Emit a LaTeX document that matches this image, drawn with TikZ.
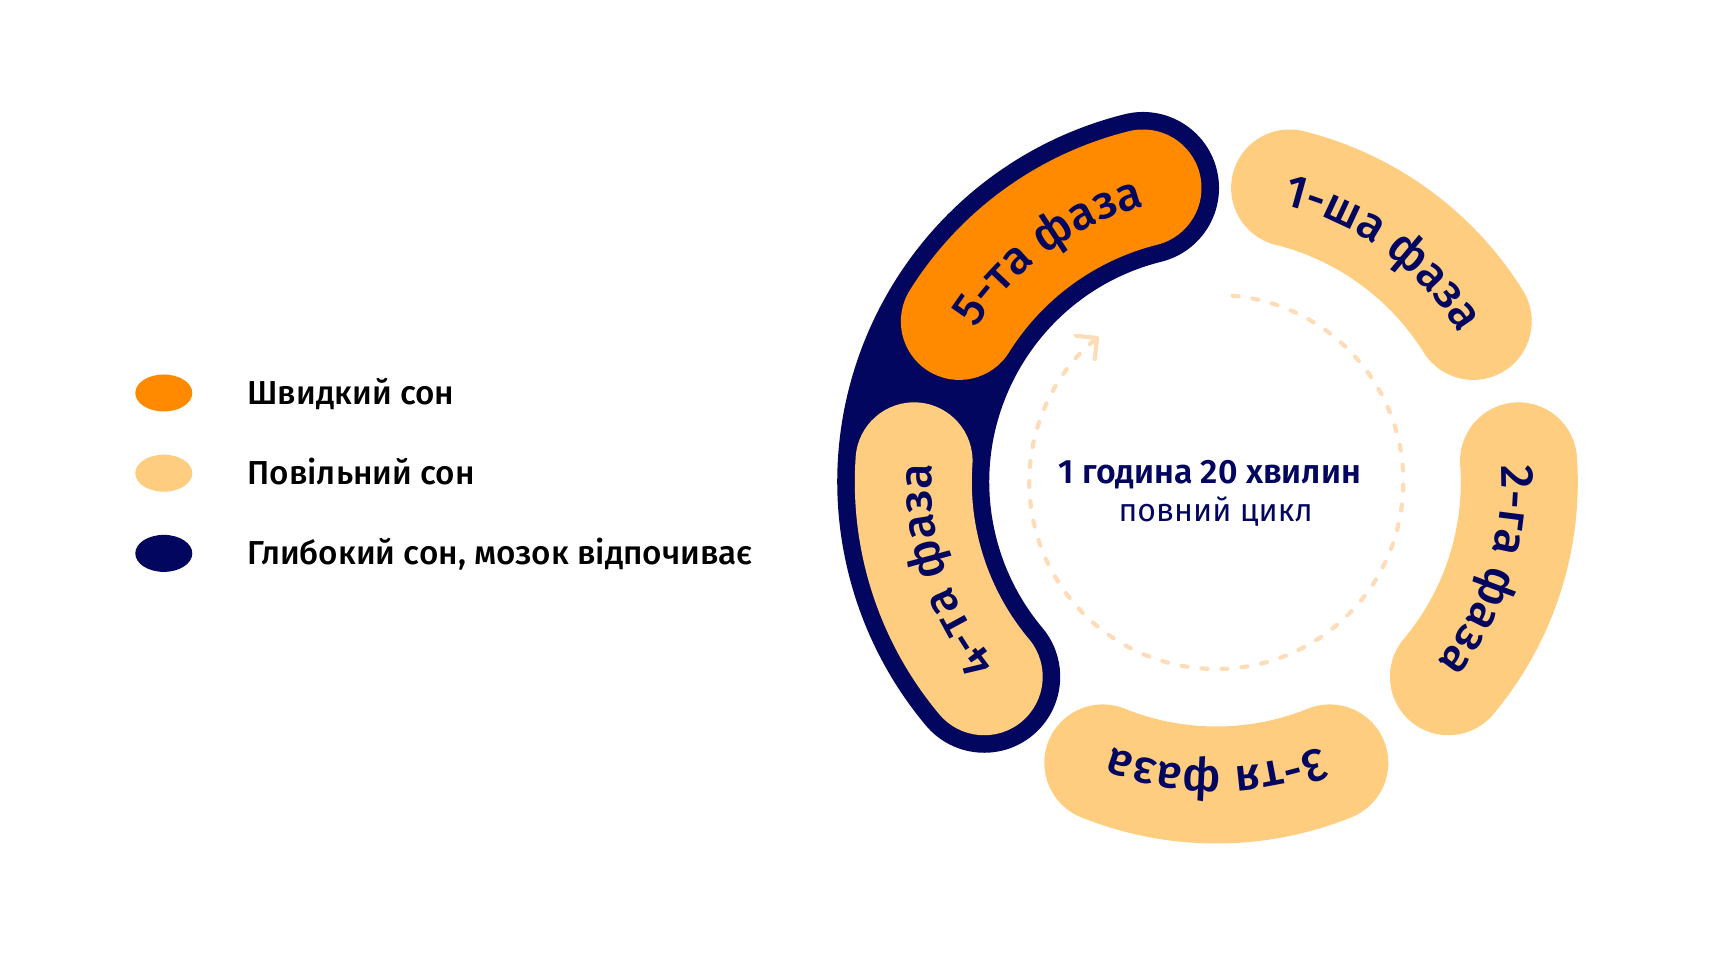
\documentclass[tikz,border=0pt]{standalone}
\usepackage{fontspec}
\setmainfont{Fira Sans}[UprightFont={* Medium}, BoldFont={* SemiBold}]
\newfontfamily\plainfont{Fira Sans}
\usetikzlibrary{arrows.meta,decorations.text,shapes.geometric}
\definecolor{navy}{HTML}{03065E}
\definecolor{peach}{HTML}{FFCD80}
\definecolor{orng}{HTML}{FF8A00}
\definecolor{dashpeach}{HTML}{FFDCB8}
\newcommand{\phasefont}{\fontsize{13.2}{15}\selectfont\color{navy}}
\tikzset{band/.style={line width=1.17cm, line cap=round},
  keydot/.style={ellipse, minimum width=0.57cm, minimum height=0.37cm, inner sep=0pt}}
\begin{document}
\begin{tikzpicture}
\useasboundingbox (0,0) rectangle (17.12,9.62);
\coordinate (O) at (12.163,4.80);
% deep sleep outline round phases 4 and 5
\draw[navy, line width=1.52cm, line cap=round] (O) ++(104:3.03) arc[start angle=104, end angle=220, radius=3.03];
\foreach \a/\col/\txt in {54/peach/1-ша фаза, -18/peach/2-га фаза, -90/peach/3-тя фаза, -162/peach/4-та фаза, 126/orng/5-та фаза}{
  \draw[\col, band] (O) ++(\a+22:3.03) arc[start angle=\a+22, end angle=\a-22, radius=3.03];
  \path[decorate, decoration={text along path, text align=center, text/.expanded={|\noexpand\phasefont|\txt}}]
    (O) ++(\a+22:2.85) arc[start angle=\a+22, end angle=\a-22, radius=2.85];
}
% cycle arrow
\draw[dashpeach, line width=0.042cm, line cap=round, dash pattern=on 0.06cm off 0.14cm,
  -{Straight Barb[length=0.15cm, width=0.3cm, round]}] (O) ++(85:1.87) arc[start angle=85, end angle=-231, radius=1.87];
\node[navy, anchor=base, font=\fontsize{9.6}{11}\selectfont\bfseries] (total) at (12.10,4.78) {1 година 20 хвилин};
\node[navy, anchor=base, font=\fontsize{9.1}{11}\plainfont] (cycle) at (12.157,4.40) {повний цикл};
% legend
\foreach \i/\col/\txt in {0/orng/Швидкий сон, 1/peach/Повільний сон, 2/navy/{Глибокий сон, мозок відпочиває}}{
  \node[keydot, fill=\col] (dot\i) at (1.638,5.69-0.802*\i) {};
  \node[anchor=base west, inner sep=0pt, font=\fontsize{9.45}{11}\selectfont] (key\i) at (2.467,5.575-0.802*\i) {\txt};
}
\end{tikzpicture}
\end{document}
